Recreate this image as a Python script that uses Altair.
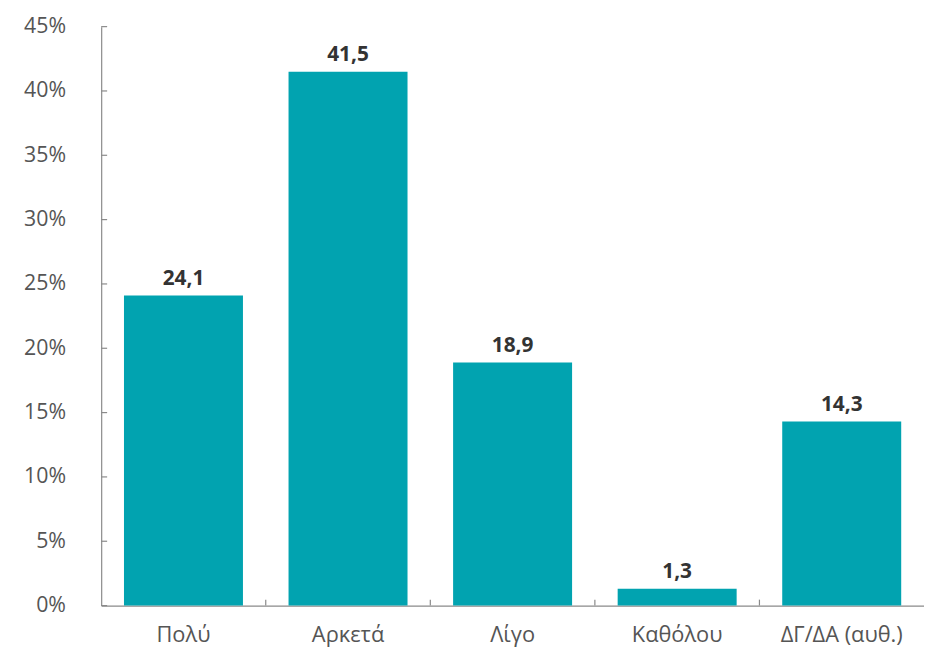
import altair as alt
import pandas as pd

categories = ["Πολύ", "Αρκετά", "Λίγο", "Καθόλου", "ΔΓ/ΔΑ (αυθ.)"]
values = [24.1, 41.5, 18.9, 1.3, 14.3]
y_ticks = [0, 5, 10, 15, 20, 25, 30, 35, 40, 45]
boundaries = [1, 2, 3, 4]

W, H = 830, 584
BAR = "#01A3B0"
AX = "#8a8a8a"
FONT = "Open Sans"

df = pd.DataFrame({
    "cat": categories,
    "val": values,
    "label": [f"{v:.1f}".replace(".", ",") for v in values],
})
ticks_df = pd.DataFrame({"t": y_ticks})
bnd_df = pd.DataFrame({"b": boundaries})

xscale = alt.Scale(domain=categories, paddingInner=0.277, paddingOuter=0.1385)
yscale = alt.Scale(domain=[0, 45], nice=False)

bars = alt.Chart(df).mark_bar(color=BAR).encode(
    x=alt.X("cat:N", scale=xscale, sort=categories, title=None,
            axis=alt.Axis(labelAngle=0, ticks=False, tickSize=0, labelPadding=19,
                          labelFontSize=22, labelColor="#555555", labelFont=FONT,
                          domainColor=AX, domainWidth=1.2)),
    y=alt.Y("val:Q", scale=yscale, title=None,
            axis=alt.Axis(values=y_ticks, labelExpr="datum.value + '%'", ticks=False,
                          tickSize=0, grid=False, labelPadding=36, labelFontSize=21.5,
                          labelColor="#555555", labelFont=FONT, domainColor=AX,
                          domainWidth=1.2, minExtent=89, maxExtent=89)),
)

text = alt.Chart(df).mark_text(baseline="alphabetic", dy=-11, fontSize=21,
                               fontWeight="bold", color="#333333", font=FONT).encode(
    x=alt.X("cat:N", scale=xscale, sort=categories, axis=None),
    y=alt.Y("val:Q", scale=yscale),
    text="label:N",
)

yt = alt.Chart(ticks_df).mark_rule(color=AX, strokeWidth=1.2).encode(
    y=alt.Y("t:Q", scale=yscale),
    x=alt.value(0),
    x2=alt.value(6),
)

xt = alt.Chart(bnd_df).mark_rule(color=AX, strokeWidth=1.2).encode(
    x=alt.X("b:Q", scale=alt.Scale(domain=[0, 5], nice=False, zero=False), axis=None),
    y=alt.value(H),
    y2=alt.value(H - 6),
)

chart = alt.layer(bars, text, yt, xt).resolve_scale(x="independent").properties(
    width=W, height=H, padding={"left": 5, "top": 5, "right": 0, "bottom": 0}
).configure_view(stroke=None)

chart.save("out.html", embed_options={"renderer": "svg", "actions": False})
